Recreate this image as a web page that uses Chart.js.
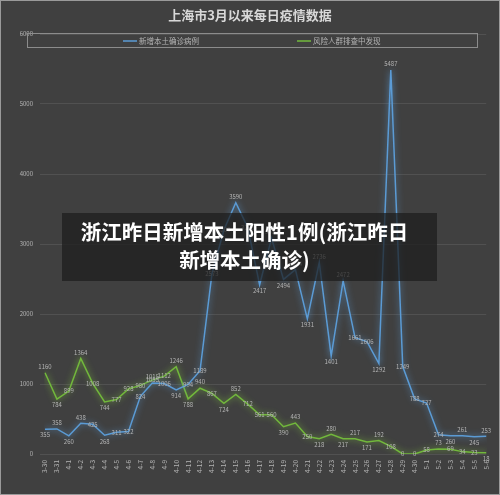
<!DOCTYPE html>
<html>
<head>
<meta charset="utf-8">
<script src="https://cdn.jsdelivr.net/npm/chart.js@4.4.0/dist/chart.umd.min.js"></script>
<style>
    html, body { margin: 0; padding: 0; background: #404040; }
    #caja { position: relative; width: 500px; height: 495px; }
    #banner {
        position: absolute; left: 62px; top: 213px; width: 375px; height: 68px;
        background: rgba(28, 28, 28, 0.72); color: #fff; text-align: center;
        font-family: "Noto Sans CJK SC", sans-serif; font-weight: bold;
        font-size: 20.5px; line-height: 28px; padding: 4px 10px 0 0; box-sizing: border-box;
    }
</style>
</head>
<body>
<div id="caja">
    <canvas id="grafico" width="500" height="495"></canvas>
    <div id="banner">浙江昨日新增本土阳性1例(浙江昨日<br>新增本土确诊)</div>
</div>
<script>
// Datos
const fechas = ['3-30', '3-31',
    '4-1', '4-2', '4-3', '4-4', '4-5', '4-6', '4-7', '4-8', '4-9', '4-10',
    '4-11', '4-12', '4-13', '4-14', '4-15', '4-16', '4-17', '4-18', '4-19', '4-20',
    '4-21', '4-22', '4-23', '4-24', '4-25', '4-26', '4-27', '4-28', '4-29', '4-30',
    '5-1', '5-2', '5-3', '5-4', '5-5', '5-6'];
const confirmados = [355, 358, 260, 438, 425, 268, 311, 322, 824, 1015, 1006, 914,
    994, 1189, 2573, 3200, 3590, 3238, 2417, 3084, 2494, 2634, 1931, 2736, 1401, 2472,
    1661, 1606, 1292, 5487, 1249, 788, 727, 274, 260, 261, 245, 253];
const riesgo = [1160, 784, 899, 1364, 1008, 744, 777, 928, 980, 1055, 1112, 1246,
    788, 940, 867, 724, 852, 712, 561, 560, 390, 443, 250, 218, 280, 217, 217, 171,
    192, 108, 0, 0, 58, 73, 69, 34, 23, 18];
const ticksY = [0, 1000, 2000, 3000, 4000, 5000, 6000];

const COLORES = {
    azul: '#5b9bd5',
    verde: '#72b83c',
    texto: '#b4b4b4',
    grid: 'rgba(255, 255, 255, 0.09)'
};
const FUENTE = '"Noto Sans CJK SC", "DejaVu Sans", sans-serif';

// Brillo alrededor de las líneas
const pluginBrillo = {
    id: 'brillo',
    beforeDatasetDraw(chart, args) {
        const ctx = chart.ctx;
        ctx.save();
        ctx.shadowColor = args.index === 0 ? 'rgba(91,155,213,0.9)' : 'rgba(130,200,60,0.9)';
        ctx.shadowBlur = 6;
    },
    afterDatasetDraw(chart) {
        chart.ctx.restore();
    }
};

// Etiquetas de valores, título, leyenda y borde
const pluginExtras = {
    id: 'extras',
    afterDatasetsDraw(chart) {
        const ctx = chart.ctx;
        ctx.save();
        ctx.font = '6px ' + FUENTE;
        ctx.fillStyle = COLORES.texto;
        ctx.textAlign = 'center';
        ctx.textBaseline = 'middle';
        chart.data.datasets.forEach((ds, i) => {
            const meta = chart.getDatasetMeta(i);
            meta.data.forEach((p, j) => {
                const v = ds.data[j];
                const prev = j > 0 ? ds.data[j - 1] : v;
                const next = j < ds.data.length - 1 ? ds.data[j + 1] : v;
                let dy = 0;
                if (v >= prev && v >= next && (v > prev || v > next)) dy = -6;
                else if (v <= prev && v <= next && (v < prev || v < next)) dy = 6;
                if (v === 0) dy = 0;
                ctx.fillText(String(v), p.x, p.y + dy);
            });
        });
        ctx.restore();

        // título
        ctx.save();
        ctx.fillStyle = '#d8d8d8';
        ctx.font = 'bold 13px ' + FUENTE;
        ctx.textAlign = 'center';
        ctx.textBaseline = 'middle';
        ctx.fillText('上海市3月以来每日疫情数据', 250, 15);

        // leyenda
        ctx.strokeStyle = '#8c8c8c';
        ctx.lineWidth = 1;
        ctx.strokeRect(27.5, 33.5, 450, 14);
        ctx.font = '7.5px ' + FUENTE;
        ctx.textAlign = 'left';
        ctx.fillStyle = COLORES.texto;
        const items = [
            { x: 123, color: COLORES.azul, texto: '新增本土确诊病例' },
            { x: 297, color: COLORES.verde, texto: '风险人群排查中发现' }
        ];
        items.forEach(it => {
            ctx.strokeStyle = it.color;
            ctx.lineWidth = 1.5;
            ctx.beginPath();
            ctx.moveTo(it.x, 41);
            ctx.lineTo(it.x + 14, 41);
            ctx.stroke();
            ctx.fillText(it.texto, it.x + 16, 41);
        });

        // borde exterior
        ctx.strokeStyle = '#9a9a9a';
        ctx.lineWidth = 1;
        ctx.strokeRect(0.5, 0.5, 499, 494);
        ctx.restore();
    }
};

const ctx = document.getElementById('grafico').getContext('2d');
new Chart(ctx, {
    type: 'line',
    data: {
        labels: fechas,
        datasets: [
            {
                label: '新增本土确诊病例',
                data: confirmados,
                borderColor: COLORES.azul,
                borderWidth: 1.5,
                pointRadius: 0,
                tension: 0,
                fill: false
            },
            {
                label: '风险人群排查中发现',
                data: riesgo,
                borderColor: COLORES.verde,
                borderWidth: 1.5,
                pointRadius: 0,
                tension: 0,
                fill: false
            }
        ]
    },
    options: {
        responsive: false,
        animation: false,
        layout: { padding: { top: 34, right: 5, left: 0, bottom: 0 } },
        plugins: {
            legend: { display: false },
            title: { display: false },
            tooltip: { enabled: false }
        },
        scales: {
            x: {
                offset: false,
                grid: { display: false, drawTicks: false },
                border: { display: false },
                ticks: {
                    autoSkip: false,
                    maxRotation: 90,
                    minRotation: 90,
                    padding: 6,
                    color: COLORES.texto,
                    font: { size: 6.5, family: FUENTE }
                },
                afterFit(scale) { scale.height = 41; }
            },
            y: {
                min: 0,
                max: 6000,
                grid: { color: COLORES.grid, tickLength: 5 },
                border: { display: false },
                afterBuildTicks(scale) { scale.ticks = ticksY.map(v => ({ value: v })); },
                ticks: {
                    padding: 7,
                    color: COLORES.texto,
                    font: { size: 6, family: FUENTE },
                    callback: value => String(value)
                },
                afterFit(scale) { scale.width = 45; }
            }
        }
    },
    plugins: [pluginBrillo, pluginExtras]
});
</script>
</body>
</html>
